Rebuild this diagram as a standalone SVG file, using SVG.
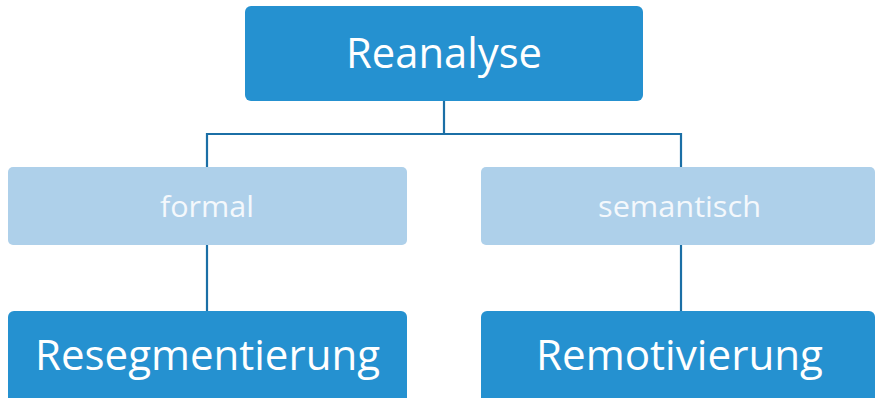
<svg xmlns="http://www.w3.org/2000/svg" width="876" height="398" viewBox="0 0 876 398">
<style>
.dark{fill:#2591D0}
.light{fill:#AED0EA}
.t{font-family:"Open Sans","Noto Sans","Liberation Sans",sans-serif;text-anchor:middle}
.big{font-size:42px;fill:#FFFFFF}
.small{font-size:30px;fill:#F4F8FC}
.conn{fill:none;stroke:#1B6FA6;stroke-width:2.2}
</style>
<rect width="876" height="398" fill="#FFFFFF"/>
<g id="connectors">
<path class="conn" d="M444 101 V134 M207 134 H681 M207 133 V167 M681 133 V167"/>
<path class="conn" d="M207 245 V311"/>
<path class="conn" d="M681 245 V311"/>
</g>
<g id="reanalyse">
<rect class="dark" x="245" y="6" width="398" height="95" rx="6"/>
<text class="t big" x="444" y="68" textLength="196" lengthAdjust="spacingAndGlyphs">Reanalyse</text>
</g>
<g id="formal">
<rect class="light" x="8" y="167" width="399" height="78" rx="5"/>
<text class="t small" x="207" y="217" textLength="94" lengthAdjust="spacingAndGlyphs">formal</text>
</g>
<g id="semantisch">
<rect class="light" x="481" y="167" width="394" height="78" rx="5"/>
<text class="t small" x="679.5" y="217" textLength="163" lengthAdjust="spacingAndGlyphs">semantisch</text>
</g>
<g id="resegmentierung">
<rect class="dark" x="8" y="311" width="399" height="95" rx="6"/>
<text class="t big" x="207.5" y="370" textLength="345" lengthAdjust="spacingAndGlyphs">Resegmentierung</text>
</g>
<g id="remotivierung">
<rect class="dark" x="481" y="311" width="394" height="95" rx="6"/>
<text class="t big" x="679.5" y="370" textLength="287" lengthAdjust="spacingAndGlyphs">Remotivierung</text>
</g>
</svg>
